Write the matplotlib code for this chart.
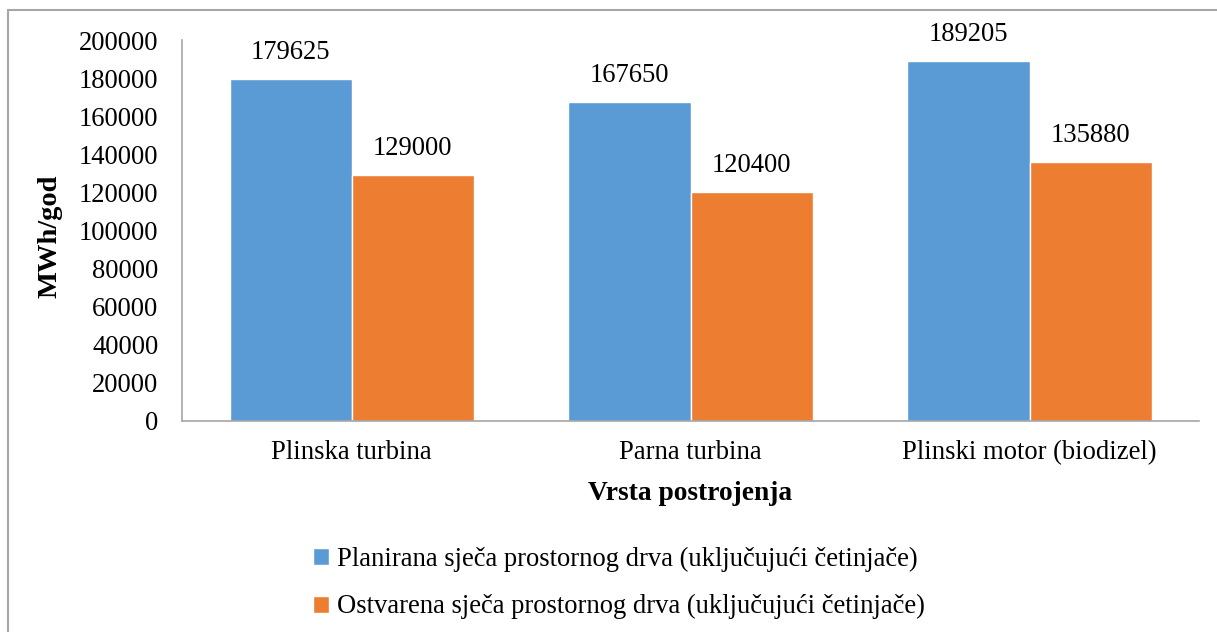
import numpy as np
import matplotlib
matplotlib.use("Agg")
import matplotlib.pyplot as plt
from matplotlib.patches import Rectangle

plt.rcParams['font.family'] = ['Liberation Serif', 'DejaVu Serif']

categories = ["Plinska turbina", "Parna turbina", "Plinski motor (biodizel)"]
planirana = [179625, 167650, 189205]
ostvarena = [129000, 120400, 135880]
series_names = ["Planirana sječa prostornog drva (uključujući četinjače)",
                "Ostvarena sječa prostornog drva (uključujući četinjače)"]
yticks = list(range(0, 200001, 20000))

blue = "#5B9BD5"
orange = "#ED7D31"
fs = 19.2

fig = plt.figure(figsize=(12.17, 6.32), dpi=100)
ax = fig.add_axes([0.1496, 0.3339, 0.8356, 0.6028])

x = np.arange(len(categories))
w = 0.36
b1 = ax.bar(x - w / 2, planirana, w, color=blue, edgecolor="white", linewidth=1, label=series_names[0])
b2 = ax.bar(x + w / 2, ostvarena, w, color=orange, edgecolor="white", linewidth=1, label=series_names[1])

for bars, vals in ((b1, planirana), (b2, ostvarena)):
    for r, v in zip(bars, vals):
        ax.annotate(str(v), (r.get_x() + r.get_width() / 2, v), xytext=(0, 10),
                    textcoords="offset points", ha="center", va="bottom", fontsize=fs)

ax.set_xlim(-0.5, 2.5)
ax.set_ylim(0, 200000)
ax.set_yticks(yticks)
ax.set_yticklabels([str(t) for t in yticks], fontsize=fs)
ax.set_xticks(x)
ax.set_xticklabels(categories, fontsize=fs)
ax.tick_params(axis="y", length=0, pad=17)
ax.tick_params(axis="x", length=0, pad=14)

for s in ("top", "right"):
    ax.spines[s].set_visible(False)
for s in ("left", "bottom"):
    ax.spines[s].set_color("#A6A6A6")
    ax.spines[s].set_linewidth(1.2)

ax.set_xlabel("Vrsta postrojenja", fontsize=19.8, fontweight="bold", labelpad=11)
ax.set_ylabel("MWh/god", fontsize=20.5, fontweight="bold")
ax.yaxis.set_label_coords(-0.118, 0.485)

fig.legend(handles=[b1, b2], loc="center", bbox_to_anchor=(619 / 1217, 49 / 632),
           frameon=False, fontsize=fs, handlelength=0.6, handleheight=0.6,
           handletextpad=0.3, labelspacing=0.85)

fig.patches.append(Rectangle((8 / 1217, -0.1), 1.2, (622 / 632) + 0.1, transform=fig.transFigure,
                             fill=False, edgecolor="#A6A6A6", linewidth=1.5))

fig.savefig("out.png", dpi=100)
